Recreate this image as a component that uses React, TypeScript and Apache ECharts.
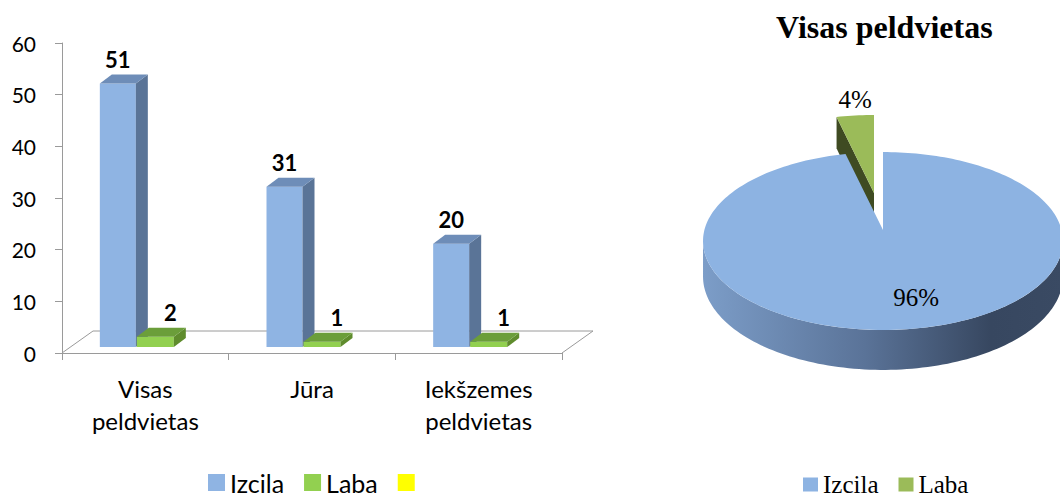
import React, { useEffect, useRef } from "react";
import * as echarts from "echarts";

// ---------- data ----------
const categories = ["Visas\npeldvietas", "Jūra", "Iekšzemes\npeldvietas"];
const seriesNames = ["Izcila", "Laba", " "];
const izcilaValues = [51, 31, 20];
const labaValues = [2, 1, 1];
const yMin = 0;
const yMax = 60;
const yInterval = 10;

const pieTitle = "Visas peldvietas";
const pieNames = ["Izcila", "Laba"];
const pieValues = [izcilaValues[0], labaValues[0]];

// ---------- styles ----------
const BLUE = { front: "#8FB4E3", side: "#5A7497", top: "#6E8DB8" };
const GREEN = { front: "#92D050", side: "#5F8C2D", top: "#6B9E3A" };
const YELLOW = "#FFFF00";
const PIE_BLUE = "#8DB3E2";
const PIE_GREEN = "#9BBB59";
const PIE_GREEN_DARK = "#3F4B22";
const AXIS_GRAY = "#9A9A9A";
const SANS = "Lato";
const SERIF = "Liberation Serif";

function makeBarRender(off0: number, off1: number, col: any, labelDx: number) {
  return (params: any, api: any) => {
    const idx = api.value(0);
    const val = api.value(1);
    const base = api.coord([idx, 0]);
    const tip = api.coord([idx, val]);
    const band = api.size([1, 0])[0];
    const x0 = base[0] + band * off0;
    const x1 = base[0] + band * off1;
    const lift = 6;
    const yb = base[1] - lift;
    const yt = tip[1] - lift;
    const dx = band * 0.072;
    const dy = 9;
    return {
      type: "group",
      children: [
        { type: "rect", shape: { x: x0, y: yt, width: x1 - x0, height: yb - yt }, style: { fill: col.front } },
        { type: "polygon", shape: { points: [[x1, yt], [x1 + dx, yt - dy], [x1 + dx, yb - dy], [x1, yb]] }, style: { fill: col.side } },
        { type: "polygon", shape: { points: [[x0, yt], [x0 + dx, yt - dy], [x1 + dx, yt - dy], [x1, yt]] }, style: { fill: col.top } },
        {
          type: "text",
          style: {
            text: String(val),
            x: (x0 + x1) / 2 + labelDx,
            y: yt - dy - 4,
            align: "center",
            verticalAlign: "bottom",
            font: `bold 22px ${SANS}`,
            fill: "#000",
          },
        },
      ],
    };
  };
}

function floorRender(params: any, api: any) {
  const cs = params.coordSys;
  const bx = 31;
  const by = 22;
  const yF = cs.y + cs.height;
  const ls = { stroke: AXIS_GRAY, lineWidth: 1 };
  return {
    type: "group",
    children: [
      { type: "line", shape: { x1: cs.x + bx, y1: yF - by, x2: cs.x + cs.width + bx, y2: yF - by }, style: ls },
      { type: "line", shape: { x1: cs.x, y1: yF, x2: cs.x + bx, y2: yF - by }, style: ls },
      { type: "line", shape: { x1: cs.x + cs.width, y1: yF, x2: cs.x + cs.width + bx, y2: yF - by }, style: ls },
    ],
  };
}

// 3D pie (perspective ellipse)
const CX = 883;
const CY = 230;
const RA = 178.6;
const RB = 87.6;
const K = 0.1236;
const DEPTH = 35;
const EXPLODE = 0.426;

function proj(u: number, z: number) {
  const s = 1 / (1 + K * z);
  return [CX + RA * u * s, CY - RB * z * s, s];
}
function rim(deg: number) {
  const r = (deg * Math.PI) / 180;
  return proj(Math.sin(r), Math.cos(r));
}

function pieRender(params: any, api: any) {
  const i = params.dataIndex;
  const total = pieValues.reduce((a, b) => a + b, 0);
  let cum = 0;
  for (let k = 0; k < i; k++) cum += pieValues[k];
  const v = api.value(0);
  const a0 = (cum / total) * 360;
  const a1 = ((cum + v) / total) * 360;
  const mid = (a0 + a1) / 2;
  const pct = Math.round((v / total) * 100) + "%";
  const exploded = i > 0;
  const mr = (mid * Math.PI) / 180;
  const ox = exploded ? RA * Math.sin(mr) * EXPLODE : 0;
  const oy = exploded ? -RB * Math.cos(mr) * EXPLODE : 0;
  const apex = [CX + ox, CY + oy];
  const topPts: number[][] = [apex];
  const steps = Math.max(4, Math.ceil((a1 - a0) / 1.5));
  for (let s = 0; s <= steps; s++) {
    const p = rim(a0 + ((a1 - a0) * s) / steps);
    topPts.push([p[0] + ox, p[1] + oy]);
  }
  const children: any[] = [];
  const zBase = exploded ? 0 : 10;
  const edge = (Math.acos(-K) * 180) / Math.PI;
  const sa = Math.max(a0, edge);
  const sb = Math.min(a1, 360 - edge);
  if (sb > sa) {
    const upper: number[][] = [];
    const lower: number[][] = [];
    const n = Math.ceil((sb - sa) / 1.5);
    for (let s = 0; s <= n; s++) {
      const p = rim(sa + ((sb - sa) * s) / n);
      upper.push([p[0] + ox, p[1] + oy]);
      lower.push([p[0] + ox, p[1] + oy + DEPTH * p[2]]);
    }
    children.push({
      type: "polygon",
      z2: zBase + 1,
      shape: { points: upper.concat(lower.reverse()) },
      style: {
        fill: new echarts.graphic.LinearGradient(0, 0, 1, 0, [
          { offset: 0, color: "#7C9DC8" },
          { offset: 0.45, color: "#5A7398" },
          { offset: 0.8, color: "#374760" },
          { offset: 1, color: "#3A4A63" },
        ]),
      },
    });
  }
  if (exploded) {
    const p = rim(a0);
    const r0 = [p[0] + ox, p[1] + oy];
    children.push({
      type: "polygon",
      z2: zBase + 1,
      shape: {
        points: [apex, r0, [r0[0], r0[1] + DEPTH * p[2]], [apex[0], apex[1] + DEPTH]],
      },
      style: { fill: PIE_GREEN_DARK },
    });
  }
  children.push({
    type: "polygon",
    z2: zBase + 2,
    shape: { points: topPts },
    style: { fill: exploded ? PIE_GREEN : PIE_BLUE },
  });
  let lx: number, ly: number;
  if (exploded) {
    const p = rim(mid);
    lx = p[0] + ox;
    ly = p[1] + oy - 16;
  } else {
    const p = proj(0.7 * Math.sin(mr), 0.7 * Math.cos(mr));
    lx = p[0] + 17;
    ly = p[1] + 1;
  }
  children.push({
    type: "text",
    z2: 30,
    style: {
      text: pct,
      x: lx,
      y: ly,
      align: "center",
      verticalAlign: "middle",
      font: `25px ${SERIF}`,
      fill: "#000",
    },
  });
  return { type: "group", children };
}

export default function App() {
  const ref = useRef<HTMLDivElement>(null);
  useEffect(() => {
    if (!ref.current) return;
    const chart = echarts.init(ref.current, undefined, { renderer: "svg" });
    const option: any = {
      animation: false,
      backgroundColor: "#ffffff",
      textStyle: { fontFamily: SANS },
      title: {
        text: pieTitle,
        left: 771,
        top: 6,
        textStyle: { fontFamily: SERIF, fontWeight: "bold", fontSize: 32, color: "#000" },
      },
      legend: [
        {
          left: 203,
          top: 465,
          icon: "rect",
          itemWidth: 17,
          itemHeight: 17,
          itemGap: 20,
          selectedMode: false,
          textStyle: { fontFamily: SANS, fontSize: 25, color: "#000" },
          data: seriesNames.map((n) => ({ name: n })),
        },
        {
          left: 798,
          top: 467,
          icon: "rect",
          itemWidth: 15,
          itemHeight: 14,
          itemGap: 20,
          selectedMode: false,
          textStyle: { fontFamily: SERIF, fontSize: 25, color: "#000" },
          data: [
            { name: pieNames[0], itemStyle: { color: PIE_BLUE } },
            { name: pieNames[1], itemStyle: { color: PIE_GREEN } },
          ],
        },
      ],
      grid: { left: 62, right: 498, top: 43, bottom: 146 },
      xAxis: {
        type: "category",
        data: categories,
        axisLine: { lineStyle: { color: AXIS_GRAY, width: 1 } },
        axisTick: { show: true, length: 7, interval: 0, lineStyle: { color: AXIS_GRAY } },
        axisLabel: { interval: 0, fontSize: 24, lineHeight: 32, margin: 19, color: "#000", fontFamily: SANS },
      },
      yAxis: {
        type: "value",
        min: yMin,
        max: yMax,
        interval: yInterval,
        axisLine: { show: true, lineStyle: { color: AXIS_GRAY, width: 1 } },
        axisTick: { show: true, length: 7, lineStyle: { color: AXIS_GRAY } },
        splitLine: { show: false },
        axisLabel: { fontSize: 21, color: "#000", margin: 26, fontFamily: SANS },
      },
      series: [
        {
          type: "custom",
          name: "floor",
          renderItem: floorRender,
          data: [[0, 0]],
          encode: { x: 0, y: 1 },
          z: 1,
          silent: true,
        },
        {
          type: "custom",
          name: seriesNames[0],
          itemStyle: { color: BLUE.front },
          renderItem: makeBarRender(-0.273, -0.057, BLUE, 0),
          data: izcilaValues.map((v, i) => [i, v]),
          encode: { x: 0, y: 1 },
          z: 2,
        },
        {
          type: "custom",
          name: seriesNames[1],
          itemStyle: { color: GREEN.front },
          renderItem: makeBarRender(-0.051, 0.171, GREEN, 15),
          data: labaValues.map((v, i) => [i, v]),
          encode: { x: 0, y: 1 },
          z: 3,
        },
        {
          type: "custom",
          name: seriesNames[2],
          itemStyle: { color: YELLOW },
          renderItem: () => null,
          data: [],
          encode: { x: 0, y: 1 },
        },
        {
          type: "custom",
          name: "pie",
          coordinateSystem: "none",
          renderItem: pieRender,
          data: pieValues.map((v, i) => ({ name: pieNames[i], value: [v] })),
          z: 4,
        },
      ],
    };
    chart.setOption(option);
    return () => chart.dispose();
  }, []);
  return (
    <div
      ref={ref}
      style={{ position: "absolute", left: 0, top: 0, width: 1060, height: 499, background: "#fff" }}
    />
  );
}
